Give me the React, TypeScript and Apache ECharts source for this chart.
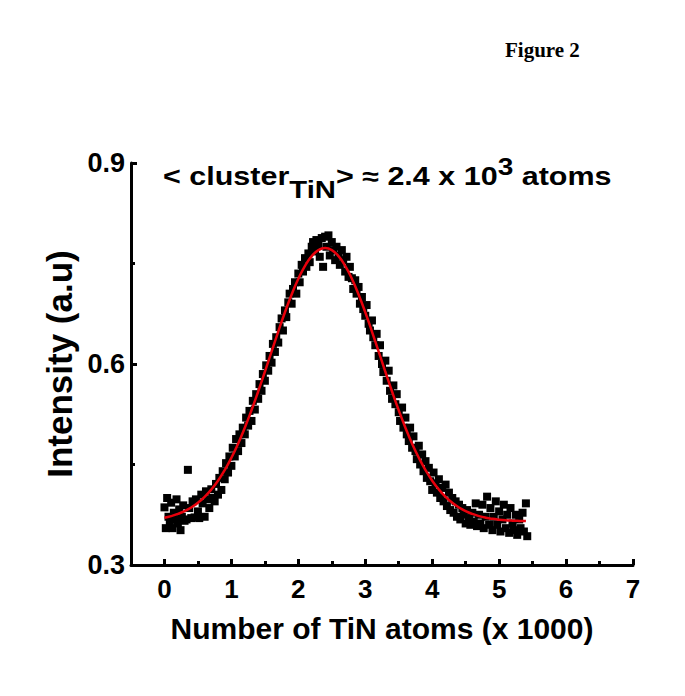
import React, { useEffect, useRef } from "react";
import * as echarts from "echarts";

const measured: [number, number][] = [
  [0.00, 0.386], [0.02, 0.355], [0.04, 0.400], [0.06, 0.372], [0.08, 0.362], [0.10, 0.393],
  [0.12, 0.355], [0.14, 0.378], [0.16, 0.368], [0.18, 0.398], [0.20, 0.362], [0.22, 0.383],
  [0.24, 0.352], [0.26, 0.372], [0.28, 0.389], [0.30, 0.366], [0.33, 0.368], [0.35, 0.442],
  [0.37, 0.385], [0.40, 0.370], [0.42, 0.395], [0.45, 0.371], [0.47, 0.398], [0.50, 0.380],
  [0.52, 0.370], [0.55, 0.405], [0.57, 0.392], [0.60, 0.372], [0.62, 0.410], [0.65, 0.398],
  [0.67, 0.385], [0.70, 0.413], [0.72, 0.400], [0.75, 0.395], [0.77, 0.421], [0.80, 0.405],
  [0.82, 0.430], [0.85, 0.412], [0.87, 0.440], [0.90, 0.428], [0.92, 0.452], [0.95, 0.438],
  [0.97, 0.462], [1.00, 0.448], [1.02, 0.475], [1.05, 0.462], [1.07, 0.488], [1.10, 0.470],
  [1.12, 0.495], [1.15, 0.482], [1.17, 0.505], [1.20, 0.495], [1.22, 0.520], [1.25, 0.508],
  [1.27, 0.530], [1.30, 0.515], [1.32, 0.545], [1.35, 0.532], [1.37, 0.555], [1.40, 0.548],
  [1.42, 0.570], [1.45, 0.560], [1.47, 0.585], [1.50, 0.575], [1.52, 0.598], [1.55, 0.590],
  [1.57, 0.612], [1.60, 0.602], [1.62, 0.630], [1.65, 0.618], [1.67, 0.640], [1.70, 0.632],
  [1.72, 0.655], [1.75, 0.668], [1.77, 0.650], [1.80, 0.680], [1.82, 0.670], [1.85, 0.692],
  [1.87, 0.705], [1.90, 0.690], [1.92, 0.712], [1.95, 0.722], [1.97, 0.705], [2.00, 0.735],
  [2.02, 0.722], [2.05, 0.748], [2.07, 0.738], [2.10, 0.758], [2.12, 0.745], [2.15, 0.765],
  [2.17, 0.752], [2.20, 0.775], [2.22, 0.782], [2.25, 0.768], [2.27, 0.785], [2.30, 0.778],
  [2.32, 0.760], [2.35, 0.788], [2.37, 0.745], [2.40, 0.790], [2.42, 0.775], [2.45, 0.792],
  [2.47, 0.762], [2.50, 0.782], [2.52, 0.770], [2.55, 0.755], [2.57, 0.775], [2.60, 0.762],
  [2.62, 0.748], [2.65, 0.770], [2.67, 0.755], [2.70, 0.738], [2.72, 0.760], [2.75, 0.730],
  [2.77, 0.745], [2.80, 0.728], [2.82, 0.712], [2.85, 0.725], [2.87, 0.705], [2.90, 0.715],
  [2.92, 0.690], [2.95, 0.700], [2.97, 0.682], [3.00, 0.672], [3.02, 0.688], [3.05, 0.660],
  [3.07, 0.650], [3.10, 0.665], [3.12, 0.640], [3.15, 0.628], [3.17, 0.645], [3.20, 0.612],
  [3.22, 0.628], [3.25, 0.600], [3.27, 0.588], [3.30, 0.605], [3.32, 0.575], [3.35, 0.590],
  [3.37, 0.560], [3.40, 0.548], [3.42, 0.568], [3.45, 0.540], [3.47, 0.555], [3.50, 0.528],
  [3.52, 0.515], [3.55, 0.535], [3.57, 0.505], [3.60, 0.520], [3.62, 0.495], [3.65, 0.485],
  [3.67, 0.505], [3.70, 0.475], [3.72, 0.492], [3.75, 0.470], [3.77, 0.458], [3.80, 0.478],
  [3.82, 0.450], [3.85, 0.465], [3.87, 0.440], [3.90, 0.455], [3.92, 0.430], [3.95, 0.445],
  [3.97, 0.425], [4.00, 0.412], [4.02, 0.438], [4.05, 0.422], [4.07, 0.408], [4.10, 0.428],
  [4.12, 0.400], [4.15, 0.415], [4.17, 0.395], [4.20, 0.420], [4.22, 0.388], [4.25, 0.408],
  [4.27, 0.382], [4.30, 0.400], [4.32, 0.378], [4.35, 0.395], [4.37, 0.372], [4.40, 0.390],
  [4.42, 0.368], [4.45, 0.385], [4.47, 0.375], [4.50, 0.362], [4.52, 0.382], [4.55, 0.370],
  [4.57, 0.360], [4.60, 0.378], [4.62, 0.365], [4.65, 0.392], [4.67, 0.358], [4.70, 0.375],
  [4.72, 0.362], [4.75, 0.390], [4.77, 0.355], [4.80, 0.372], [4.82, 0.402], [4.85, 0.360],
  [4.87, 0.385], [4.90, 0.352], [4.92, 0.372], [4.95, 0.395], [4.97, 0.360], [5.00, 0.380],
  [5.02, 0.350], [5.05, 0.368], [5.07, 0.390], [5.10, 0.355], [5.12, 0.375], [5.15, 0.348],
  [5.17, 0.385], [5.20, 0.362], [5.22, 0.352], [5.25, 0.375], [5.27, 0.345], [5.30, 0.368],
  [5.32, 0.355], [5.35, 0.378], [5.37, 0.350], [5.40, 0.392], [5.42, 0.343],
];

const fitCurve: [number, number][] = [
  [0.0, 0.3706], [0.1, 0.373], [0.2, 0.3762], [0.3, 0.3804], [0.4, 0.3858], [0.5, 0.3929],
  [0.6, 0.4017], [0.7, 0.4126], [0.8, 0.4258], [0.9, 0.4416], [1.0, 0.46], [1.1, 0.4811],
  [1.2, 0.5048], [1.3, 0.5309], [1.4, 0.559], [1.5, 0.5884], [1.6, 0.6185], [1.7, 0.6484],
  [1.8, 0.6772], [1.9, 0.7038], [2.0, 0.7272], [2.1, 0.7466], [2.2, 0.761], [2.3, 0.77],
  [2.4, 0.773], [2.5, 0.77], [2.6, 0.761], [2.7, 0.7466], [2.8, 0.7272], [2.9, 0.7038],
  [3.0, 0.6772], [3.1, 0.6484], [3.2, 0.6185], [3.3, 0.5884], [3.4, 0.559], [3.5, 0.5309],
  [3.6, 0.5048], [3.7, 0.4811], [3.8, 0.46], [3.9, 0.4416], [4.0, 0.4258], [4.1, 0.4126],
  [4.2, 0.4017], [4.3, 0.3929], [4.4, 0.3858], [4.5, 0.3804], [4.6, 0.3762], [4.7, 0.373],
  [4.8, 0.3706], [4.9, 0.3689], [5.0, 0.3677], [5.1, 0.3668], [5.2, 0.3662], [5.3, 0.3658],
  [5.4, 0.3655],
];

const xMajorTicks = [0, 1, 2, 3, 4, 5, 6, 7];
const xMinorTicks = [0.5, 1.5, 2.5, 3.5, 4.5, 5.5, 6.5];
const yTicks = [0.3, 0.6, 0.9];

const FONT = "'Liberation Sans', Arial, sans-serif";

export default function App() {
  const ref = useRef<HTMLDivElement>(null);
  useEffect(() => {
    if (!ref.current) return;
    document.body.style.margin = "0";
    const chart = echarts.init(ref.current, undefined, { renderer: "svg" });
    const axisLine = { show: true, lineStyle: { color: "#000", width: 3 } };
    chart.setOption({
      animation: false,
      backgroundColor: "#fff",
      grid: { left: 131, right: 52, top: 163, bottom: 131 },
      xAxis: [
        {
          type: "value",
          min: -0.5,
          max: 7,
          axisLine: { ...axisLine, onZero: false },
          splitLine: { show: false },
          axisTick: {
            show: true,
            inside: true,
            length: 6,
            customValues: xMajorTicks,
            lineStyle: { color: "#000", width: 3 },
          },
          axisLabel: {
            show: true,
            customValues: xMajorTicks,
            margin: 11,
            color: "#000",
            fontSize: 26,
            fontWeight: "bold",
            fontFamily: FONT,
          },
          name: "Number of TiN atoms (x 1000)",
          nameLocation: "middle",
          nameGap: 48,
          nameTextStyle: { color: "#000", fontSize: 30, fontWeight: "bold", fontFamily: FONT },
        },
        {
          type: "value",
          min: -0.5,
          max: 7,
          position: "bottom",
          axisLine: { show: false, onZero: false },
          splitLine: { show: false },
          axisLabel: { show: false },
          axisTick: {
            show: true,
            inside: true,
            length: 4,
            customValues: xMinorTicks,
            lineStyle: { color: "#000", width: 3 },
          },
        },
      ],
      yAxis: {
        type: "value",
        min: 0.3,
        max: 0.9,
        interval: 0.3,
        axisLine: { ...axisLine, onZero: false },
        splitLine: { show: false },
        axisTick: { show: true, inside: true, length: 6, lineStyle: { color: "#000", width: 3 } },
        minorTick: { show: true, splitNumber: 2, length: 4, lineStyle: { color: "#000", width: 3 } },
        axisLabel: {
          show: true,
          customValues: yTicks,
          margin: 6,
          color: "#000",
          fontSize: 27,
          fontWeight: "bold",
          fontFamily: FONT,
          formatter: (v: number) => v.toFixed(1),
        },
        name: "Intensity (a.u)",
        nameLocation: "middle",
        nameGap: 52,
        nameTextStyle: { color: "#000", fontSize: 35, fontWeight: "bold", fontFamily: FONT },
      },
      series: [
        {
          type: "scatter",
          data: measured,
          symbol: "rect",
          symbolSize: 8,
          itemStyle: { color: "#000", opacity: 1 },
          z: 2,
        },
        {
          type: "line",
          data: fitCurve,
          smooth: true,
          showSymbol: false,
          symbol: "none",
          lineStyle: { color: "#e8000b", width: 2.5 },
          z: 3,
        },
      ],
      graphic: [
        {
          type: "text",
          left: 505,
          top: 39,
          style: {
            text: "Figure 2",
            fill: "#000",
            font: "bold 21px 'Liberation Serif', 'Times New Roman', serif",
          },
        },
        {
          type: "text",
          x: 163,
          y: 150,
          scaleX: 1.22,
          style: {
            text: "< cluster{sub|TiN}> ≈ 2.4 x 10{sup|3} atoms",
            fill: "#000",
            font: `bold 25px ${FONT}`,
            rich: {
              sub: { fontSize: 24, fontWeight: "bold", fontFamily: FONT, fill: "#000", padding: [28, 0, 0, 0] },
              sup: { fontSize: 23, fontWeight: "bold", fontFamily: FONT, fill: "#000", padding: [0, 0, 18, 0] },
            },
          },
        },
      ],
    });
    return () => chart.dispose();
  }, []);
  return <div ref={ref} style={{ width: 685, height: 696 }} />;
}
